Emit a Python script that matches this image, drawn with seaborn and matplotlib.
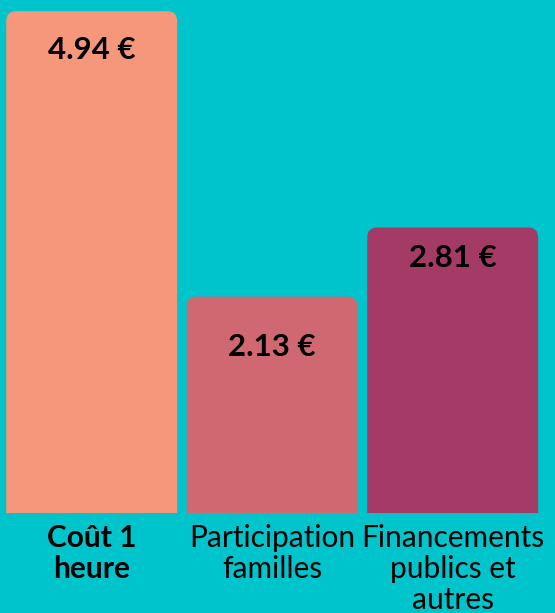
import matplotlib
matplotlib.use("Agg")
import matplotlib.pyplot as plt
from matplotlib.patches import FancyBboxPatch
import seaborn as sns
import pandas as pd

# chart data
categories = ["Coût 1\nheure", "Participation\nfamilles", "Financements\npublics et\nautres"]
values = [4.94, 2.13, 2.81]
value_labels = ["4.94 €", "2.13 €", "2.81 €"]

bg = "#00C4CC"
bar_colors = ["#F5977A", "#D06872", "#A33B66"]

sns.set_theme(style="white")
plt.rcParams["font.family"] = ["Lato", "DejaVu Sans"]

df = pd.DataFrame({"cat": categories, "val": values})

fig = plt.figure(figsize=(5.55, 6.13), dpi=100, facecolor=bg)
ax = fig.add_axes([0, 100 / 613, 1, 513 / 613])
ax.set_facecolor(bg)

sns.barplot(data=df, x="cat", y="val", hue="cat", palette=bar_colors,
            saturation=1, width=0.947, legend=False, ax=ax)

ax.set_xlim(-0.508, 2.567)
ax.set_ylim(0, 5.05)

# swap plain bars for ones with rounded tops
for p in list(ax.patches):
    x0, w, h = p.get_x(), p.get_width(), p.get_height()
    col = p.get_facecolor()
    p.set_visible(False)
    rb = FancyBboxPatch((x0, -0.3), w, h + 0.3,
                        boxstyle="round,pad=0,rounding_size=0.055",
                        mutation_aspect=1.78, facecolor=col, edgecolor="none")
    ax.add_patch(rb)

# value labels inside the bars
offsets = [0.38, 0.50, 0.30]
for i, (v, lab) in enumerate(zip(values, value_labels)):
    ax.text(i, v - offsets[i], lab, ha="center", va="center",
            fontsize=22.5, fontweight="bold", color="black")

ax.set_xlabel("")
ax.set_ylabel("")
ax.set_yticks([])
ax.tick_params(axis="x", length=0, pad=8)
ax.set_xticks(range(len(categories)))
ax.set_xticklabels(categories, fontsize=21.5, color="black", linespacing=1.12,
                   va="top")
ax.get_xticklabels()[0].set_fontweight("bold")
for s in ax.spines.values():
    s.set_visible(False)

fig.savefig("out.png", dpi=100, facecolor=bg)
